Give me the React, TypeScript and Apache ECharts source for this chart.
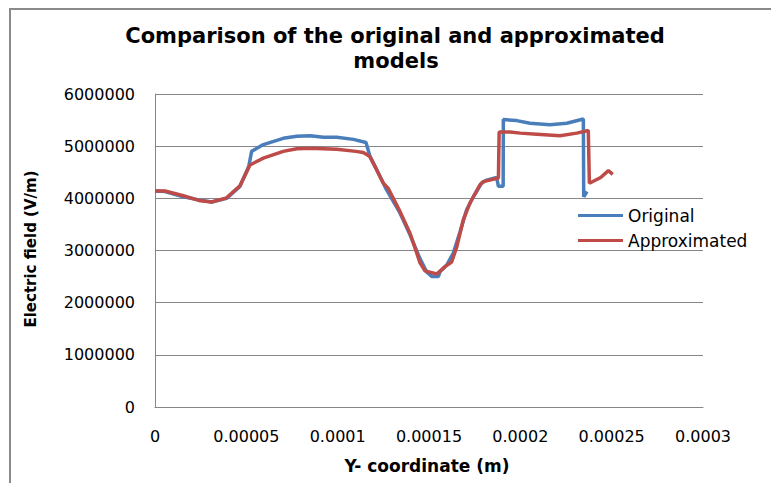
import React, { useEffect, useRef } from "react";
import * as echarts from "echarts";

// Y-coordinate (m) and electric field (V/m) samples for each model
const originalX = [
  0, 0.0000055, 0.0000155, 0.000024, 0.000031, 0.0000392, 0.0000465, 0.0000513,
  0.0000529, 0.0000593, 0.0000702, 0.0000776, 0.0000849, 0.0000922, 0.0000995,
  0.0001086, 0.0001155, 0.0001177, 0.0001214, 0.0001268, 0.0001341, 0.0001396,
  0.000145, 0.0001487, 0.0001515, 0.0001551, 0.000156, 0.0001597, 0.0001633,
  0.000167, 0.0001706, 0.0001743, 0.0001788, 0.0001816, 0.000187, 0.000188,
  0.0001906, 0.0001907, 0.000198, 0.0002053, 0.0002162, 0.0002254, 0.0002345,
  0.0002347, 0.0002365,
];
const originalY = [
  4140000, 4130000, 4030000, 3970000, 3930000, 4000000, 4230000, 4610000,
  4900000, 5030000, 5150000, 5190000, 5200000, 5170000, 5170000,
  5130000, 5070000, 4800000, 4550000, 4160000, 3720000, 3300000,
  2850000, 2590000, 2500000, 2500000, 2590000, 2720000, 2950000,
  3360000, 3780000, 4030000, 4290000, 4350000, 4400000, 4230000,
  4230000, 5510000, 5490000, 5440000, 5410000, 5440000, 5520000,
  4030000, 4130000,
];

const approxX = [
  0, 0.0000055, 0.0000155, 0.000024, 0.000031, 0.0000392, 0.0000465, 0.000052,
  0.0000593, 0.0000702, 0.0000776, 0.0000849, 0.0000995, 0.00011, 0.000114,
  0.0001177, 0.000125, 0.0001277, 0.0001341, 0.0001396, 0.0001433, 0.000145,
  0.0001478, 0.0001542, 0.0001588, 0.0001624, 0.0001652, 0.0001688, 0.0001724,
  0.0001779, 0.0001797, 0.000188, 0.0001884, 0.0001943, 0.0002, 0.000209,
  0.0002217, 0.0002309, 0.0002372, 0.0002378, 0.000244, 0.0002482, 0.0002506,
];
const approxY = [
  4140000, 4140000, 4050000, 3960000, 3930000, 4010000, 4240000, 4640000,
  4770000, 4900000, 4950000, 4960000, 4940000, 4900000, 4880000,
  4800000, 4290000, 4190000, 3750000, 3330000, 2950000, 2770000,
  2610000, 2550000, 2690000, 2780000, 3070000, 3590000, 3910000,
  4260000, 4320000, 4390000, 5270000, 5270000, 5250000, 5230000,
  5200000, 5250000, 5300000, 4290000, 4400000, 4530000, 4460000,
];

const seriesNames = ["Original", "Approximated"];
const seriesColors = ["#4A7EBB", "#BE4B48"];

const titleLines = ["Comparison of the original and approximated", "models"];
const xAxisName = "Y- coordinate (m)";
const yAxisName = "Electric field (V/m)";

const pairs = (xs: number[], ys: number[]) => xs.map((x, i) => [x, ys[i]]);

const formatX = (v: number) => (v === 0 ? "0" : String(parseFloat(v.toFixed(6))));

export default function App() {
  const ref = useRef<HTMLDivElement>(null);

  useEffect(() => {
    if (!ref.current) return;
    const chart = echarts.init(ref.current, null, { renderer: "svg" });
    const gray = "#868686";
    chart.setOption({
      animation: false,
      backgroundColor: "#ffffff",
      graphic: [
        {
          type: "rect",
          shape: { x: 10, y: 9, width: 800, height: 520 },
          style: { fill: "none", stroke: "#8a8a8a", lineWidth: 2 },
          silent: true,
        },
        {
          type: "text",
          x: 395,
          y: 36,
          style: {
            text: titleLines[0],
            fontFamily: "DejaVu Sans",
            fontWeight: "bold",
            fontSize: 21,
            fill: "#000",
            align: "center",
            verticalAlign: "middle",
          },
        },
        {
          type: "text",
          x: 396,
          y: 61,
          style: {
            text: titleLines[1],
            fontFamily: "DejaVu Sans",
            fontWeight: "bold",
            fontSize: 21,
            fill: "#000",
            align: "center",
            verticalAlign: "middle",
          },
        },
        {
          type: "text",
          x: 427,
          y: 466,
          style: {
            text: xAxisName,
            fontFamily: "DejaVu Sans",
            fontWeight: "bold",
            fontSize: 17,
            fill: "#000",
            align: "center",
            verticalAlign: "middle",
          },
        },
        {
          type: "text",
          x: 31,
          y: 249,
          rotation: Math.PI / 2,
          style: {
            text: yAxisName,
            fontFamily: "DejaVu Sans",
            fontWeight: "bold",
            fontSize: 15,
            fill: "#000",
            align: "center",
            verticalAlign: "middle",
          },
        },
      ],
      legend: {
        orient: "vertical",
        left: 573,
        top: 202,
        itemWidth: 45,
        itemHeight: 3,
        itemGap: 8,
        icon: "rect",
        textStyle: { fontFamily: "DejaVu Sans", fontSize: 17, color: "#000" },
        data: seriesNames,
      },
      grid: { left: 155, right: 68, top: 94, bottom: 76, containLabel: false },
      xAxis: {
        type: "value",
        min: 0,
        max: 0.0003,
        interval: 0.00005,
        axisLine: { show: true, lineStyle: { color: gray, width: 1 } },
        axisTick: { show: false },
        splitLine: { show: false },
        axisLabel: {
          formatter: formatX,
          margin: 21,
          fontFamily: "DejaVu Sans",
          fontSize: 16,
          color: "#000",
        },
      },
      yAxis: {
        type: "value",
        min: 0,
        max: 6000000,
        interval: 1000000,
        axisLine: { show: true, lineStyle: { color: gray, width: 1 } },
        axisTick: { show: false },
        splitLine: { show: true, lineStyle: { color: gray, width: 1 } },
        axisLabel: {
          formatter: (v: number) => String(v),
          margin: 20,
          fontFamily: "DejaVu Sans",
          fontSize: 16,
          color: "#000",
        },
      },
      series: [
        {
          name: seriesNames[0],
          type: "line",
          data: pairs(originalX, originalY),
          showSymbol: false,
          symbol: "none",
          lineStyle: { color: seriesColors[0], width: 3.5 },
          itemStyle: { color: seriesColors[0] },
          z: 2,
        },
        {
          name: seriesNames[1],
          type: "line",
          data: pairs(approxX, approxY),
          showSymbol: false,
          symbol: "none",
          lineStyle: { color: seriesColors[1], width: 3.5 },
          itemStyle: { color: seriesColors[1] },
          z: 3,
        },
      ],
    });
    return () => chart.dispose();
  }, []);

  return (
    <div
      ref={ref}
      style={{ position: "fixed", left: 0, top: 0, width: 771, height: 483 }}
    />
  );
}
